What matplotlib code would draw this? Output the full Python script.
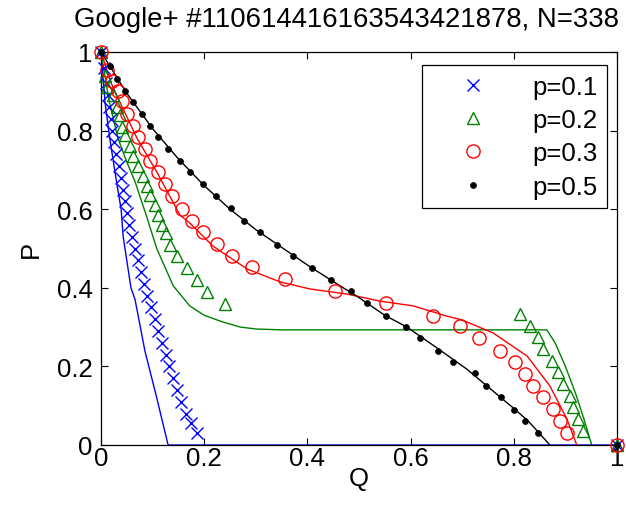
import matplotlib
matplotlib.use("Agg")
import matplotlib.pyplot as plt

plt.rcParams['font.family'] = ['Liberation Sans', 'DejaVu Sans']

title = "Google+ #110614416163543421878, N=338"
labels = ["p=0.1", "p=0.2", "p=0.3", "p=0.5"]
ticks = [0, 0.2, 0.4, 0.6, 0.8, 1]
tick_labels = ["0", "0.2", "0.4", "0.6", "0.8", "1"]

# p = 0.1 (blue)
q1 = [0, 0.005, 0.01, 0.013, 0.016, 0.019, 0.022, 0.026, 0.03, 0.034, 0.038, 0.042,
      0.046, 0.05, 0.055, 0.06, 0.066, 0.071, 0.077, 0.083, 0.09, 0.097, 0.104, 0.111,
      0.118, 0.125, 0.132, 0.139, 0.147, 0.155, 0.165, 0.175, 0.186, 1.0]
p1 = [1.0, 0.96, 0.92, 0.89, 0.86, 0.83, 0.80, 0.77, 0.74, 0.71, 0.68, 0.65,
      0.62, 0.59, 0.56, 0.53, 0.50, 0.47, 0.44, 0.41, 0.38, 0.35, 0.32, 0.29,
      0.26, 0.23, 0.20, 0.17, 0.14, 0.11, 0.08, 0.055, 0.03, 0.0]
fq1 = [0, 0.008, 0.017, 0.03, 0.039, 0.043, 0.058, 0.066, 0.085, 0.108, 0.13, 1.0]
fp1 = [1.0, 0.87, 0.78, 0.67, 0.60, 0.53, 0.40, 0.37, 0.24, 0.12, 0.0, 0.0]

# p = 0.2 (green)
q2 = [0, 0.008, 0.012, 0.023, 0.031, 0.036, 0.041, 0.047, 0.056, 0.062, 0.072, 0.081,
      0.089, 0.095, 0.105, 0.110, 0.118, 0.126, 0.134, 0.147, 0.167, 0.186, 0.205, 0.240,
      0.812, 0.831, 0.847, 0.857, 0.874, 0.886, 0.895, 0.909, 0.915, 0.924, 0.934, 1.0]
p2 = [1.0, 0.94, 0.91, 0.89, 0.86, 0.84, 0.81, 0.79, 0.76, 0.735, 0.71, 0.685,
      0.66, 0.635, 0.61, 0.585, 0.56, 0.54, 0.51, 0.48, 0.45, 0.42, 0.39, 0.36,
      0.333, 0.303, 0.275, 0.244, 0.214, 0.186, 0.155, 0.125, 0.097, 0.066, 0.036, 0.0]
fq2 = [0, 0.015, 0.033, 0.05, 0.066, 0.09, 0.108, 0.14, 0.172, 0.2, 0.236, 0.27, 0.302,
       0.35, 0.864, 0.88, 0.90, 0.92, 0.935, 0.951]
fp2 = [1.0, 0.88, 0.78, 0.72, 0.67, 0.575, 0.50, 0.405, 0.354, 0.33, 0.313, 0.30, 0.295,
       0.293, 0.293, 0.26, 0.20, 0.13, 0.07, 0.0]

# p = 0.3 (red)
q3 = [0, 0.012, 0.021, 0.033, 0.041, 0.050, 0.062, 0.072, 0.085, 0.095, 0.110, 0.124,
      0.138, 0.157, 0.176, 0.198, 0.225, 0.254, 0.293, 0.357, 0.453, 0.552, 0.643, 0.696,
      0.733, 0.773, 0.802, 0.822, 0.837, 0.857, 0.876, 0.890, 0.903, 1.0]
p3 = [1.0, 0.955, 0.926, 0.90, 0.875, 0.842, 0.812, 0.784, 0.753, 0.723, 0.695, 0.664,
      0.634, 0.60, 0.57, 0.542, 0.511, 0.481, 0.453, 0.422, 0.392, 0.361, 0.328, 0.303,
      0.272, 0.239, 0.211, 0.181, 0.15, 0.122, 0.092, 0.061, 0.031, 0.0]
fq3 = [0, 0.02, 0.04, 0.07, 0.108, 0.153, 0.172, 0.217, 0.283, 0.347, 0.405, 0.477,
       0.541, 0.605, 0.67, 0.70, 0.76, 0.826, 0.87, 0.903, 0.922]
fp3 = [1.0, 0.92, 0.863, 0.78, 0.695, 0.585, 0.565, 0.506, 0.448, 0.415, 0.397, 0.384,
       0.366, 0.354, 0.328, 0.318, 0.285, 0.226, 0.15, 0.066, 0.0]

# p = 0.5 (black)
q5 = [0, 0.017, 0.031, 0.047, 0.062, 0.079, 0.095, 0.110, 0.130, 0.153, 0.172, 0.198,
      0.222, 0.251, 0.277, 0.309, 0.341, 0.372, 0.409, 0.446, 0.484, 0.516, 0.552, 0.591,
      0.618, 0.653, 0.682, 0.725, 0.746, 0.775, 0.80, 0.822, 0.847, 1.0]
p5 = [1.0, 0.964, 0.931, 0.90, 0.872, 0.842, 0.812, 0.784, 0.753, 0.723, 0.695, 0.663,
      0.634, 0.603, 0.570, 0.542, 0.509, 0.481, 0.45, 0.42, 0.392, 0.361, 0.328, 0.30,
      0.272, 0.240, 0.211, 0.182, 0.150, 0.121, 0.090, 0.061, 0.031, 0.0]
fq5 = [0, 0.05, 0.1, 0.15, 0.2, 0.25, 0.3, 0.35, 0.4, 0.45, 0.5, 0.55, 0.593, 0.65,
       0.709, 0.75, 0.8, 0.828, 0.87]
fp5 = [1.0, 0.895, 0.805, 0.728, 0.66, 0.60, 0.548, 0.503, 0.458, 0.416, 0.375, 0.33,
       0.30, 0.248, 0.193, 0.148, 0.093, 0.061, 0.0]

BLUE = (0, 0, 1)
GREEN = (0, 0.5, 0)
RED = (1, 0, 0)
BLACK = (0, 0, 0)

fig = plt.figure(figsize=(6.26, 5.10), dpi=100)
ax = fig.add_axes([101/626, 1-446/510, 516/626, 393/510])

FS = 18.5
ax.plot(q1, p1, linestyle='none', marker='x', ms=8, mew=1.0, color=BLUE, label=labels[0], clip_on=False, zorder=3)
ax.plot(q2, p2, linestyle='none', marker='^', ms=9, mew=1.0, mfc='none', color=GREEN, label=labels[1], clip_on=False, zorder=3)
ax.plot(q3, p3, linestyle='none', marker='o', ms=9.5, mew=1.0, mfc='none', color=RED, label=labels[2], clip_on=False, zorder=3)
ax.plot(q5, p5, linestyle='none', marker='o', ms=4.3, mew=0.5, color=BLACK, label=labels[3], clip_on=False, zorder=4)

ax.plot(fq1, fp1, color=BLUE, lw=1.0, clip_on=False)
ax.plot(fq2, fp2, color=GREEN, lw=1.0)
ax.plot(fq3, fp3, color=RED, lw=1.0)
ax.plot(fq5, fp5, color=BLACK, lw=1.0)

ax.set_xlim(0, 1)
ax.set_ylim(0, 1)
ax.set_xticks(ticks)
ax.set_xticklabels(tick_labels)
ax.set_yticks(ticks)
ax.set_yticklabels(tick_labels)
ax.tick_params(direction='in', length=5, width=0.8, top=True, right=True, labelsize=FS)
ax.tick_params(axis='x', pad=1)
ax.tick_params(axis='y', pad=6)
for s in ax.spines.values():
    s.set_linewidth(0.9)

ax.set_xlabel("Q", fontsize=FS, labelpad=-3)
ax.set_ylabel("P", fontsize=FS, labelpad=10)
fig.text(347/626, 1-27/510, title, fontsize=19.8, ha='center', va='baseline')

leg = ax.legend(loc='upper right', bbox_to_anchor=(607/626, 1-66/510), bbox_transform=fig.transFigure,
                fontsize=FS, frameon=True, fancybox=False, edgecolor='black', framealpha=1,
                handlelength=3.2, handletextpad=0.7, labelspacing=0.36, borderpad=0.38, borderaxespad=0)
leg.get_frame().set_linewidth(0.9)

fig.savefig("out.png", dpi=100)
